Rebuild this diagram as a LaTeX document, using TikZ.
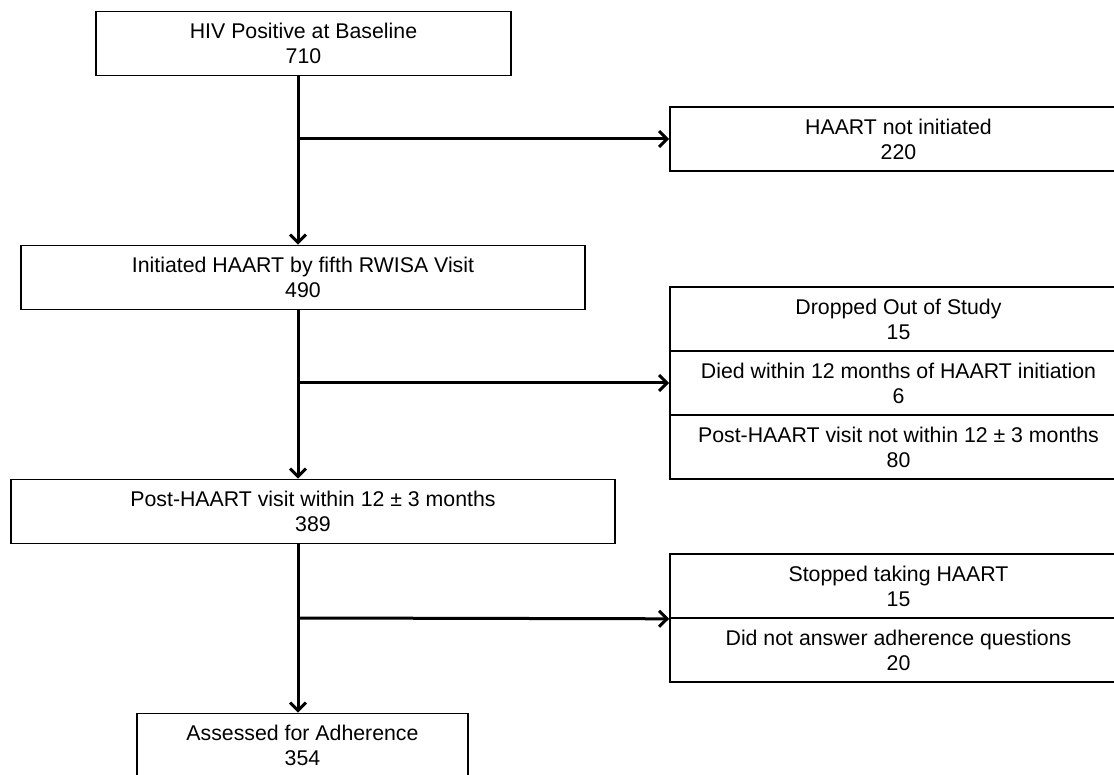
\documentclass[tikz,border=0pt]{standalone}
\usepackage{fontspec}
\setmainfont{Liberation Sans}
\usepackage{tikz}
\usetikzlibrary{arrows.meta, positioning}

\begin{document}
\begin{tikzpicture}[
  x=1pt, y=-1pt,
  box/.style={draw=black, line width=1.6pt, fill=white, minimum height=64pt, align=center, inner sep=0pt, font=\fontsize{21.3}{25}\selectfont},
  arrow/.style={-{Straight Barb[length=8pt, width=16pt]}, line width=3pt, color=black}
]
  \useasboundingbox (0,0) rectangle (1114,775);

  % Main flow
  \node[box, minimum width=415pt] (base)   at (303.5,43.5)  {HIV Positive at Baseline\\710};
  \node[box, minimum width=564pt] (init)   at (303,277.5)   {Initiated HAART by fifth RWISA Visit\\490};
  \node[box, minimum width=604pt] (post)   at (313,511.5)   {Post-HAART visit within 12 ± 3 months\\389};
  \node[box, minimum width=331pt] (assess) at (302.5,745.5) {Assessed for Adherence\\354};

  % Exclusions
  \node[box, minimum width=457pt] (notinit) at (898.5,139) {HAART not initiated\\220};
  \node[box, minimum width=457pt] (drop)    at (898.5,319) {Dropped Out of Study\\15};
  \node[box, minimum width=457pt] (died)    at (898.5,383) {Died within 12 months of HAART initiation\\6};
  \node[box, minimum width=457pt] (late)    at (898.5,447) {Post-HAART visit not within 12 ± 3 months\\80};
  \node[box, minimum width=457pt] (stop)    at (898.5,586) {Stopped taking HAART\\15};
  \node[box, minimum width=457pt] (noans)   at (898.5,650) {Did not answer adherence questions\\20};

  % Branch points on the spine
  \coordinate (b1) at (298,139);
  \coordinate (b2) at (298,383);
  \coordinate (b3) at (298,618);

  % Vertical arrows
  \draw[arrow] (base.south -| b1) -- (init.north -| b1);
  \draw[arrow] (init.south -| b2) -- (post.north -| b2);
  \draw[arrow] (post.south -| b3) -- (assess.north -| b3);

  % Side arrows
  \draw[arrow] (b1) -- (notinit.west);
  \draw[arrow] (b2) -- (died.west);
  \draw[arrow] (b3) -- (stop.south west);
\end{tikzpicture}
\end{document}
